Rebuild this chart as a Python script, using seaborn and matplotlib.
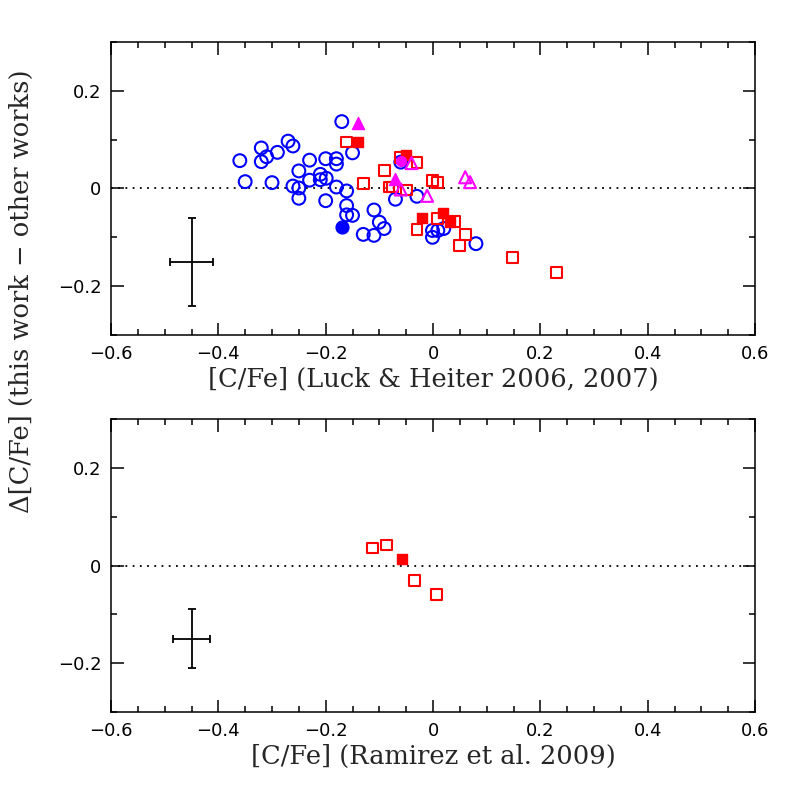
import numpy as np
import matplotlib
matplotlib.use("Agg")
import matplotlib.pyplot as plt
from matplotlib.ticker import MultipleLocator, FuncFormatter
import seaborn as sns

# ---- data ----
# top panel: comparison with Luck & Heiter (2006, 2007)
lh_circ_open_x = [-0.170, -0.150, -0.360, -0.320, -0.310, -0.320, -0.290, -0.270, -0.261,
                  -0.350, -0.300, -0.230, -0.250, -0.230, -0.261, -0.250, -0.250, -0.210,
                  -0.210, -0.199, -0.200, -0.200, -0.180, -0.180, -0.180, -0.161, -0.161,
                  -0.161, -0.150, -0.110, -0.100, -0.091, -0.130, -0.110, -0.070, -0.060,
                  -0.030, -0.001, -0.001, 0.009, 0.020, 0.080]
lh_circ_open_y = [0.137, 0.073, 0.057, 0.083, 0.065, 0.055, 0.074, 0.097, 0.087,
                  0.014, 0.012, 0.058, 0.036, 0.017, 0.005, 0.001, -0.020, 0.029,
                  0.018, 0.021, 0.061, -0.025, 0.061, 0.050, 0.003, -0.005, -0.035,
                  -0.054, -0.055, -0.044, -0.069, -0.082, -0.094, -0.096, -0.022, 0.054,
                  -0.016, -0.086, -0.100, -0.086, -0.082, -0.113]
lh_circ_fill_x = [-0.170]
lh_circ_fill_y = [-0.078]

lh_sq_open_x = [-0.161, -0.130, -0.091, -0.082, -0.075, -0.060, -0.030, -0.050, -0.001,
                0.009, 0.009, 0.040, -0.030, 0.060, 0.050, 0.148, 0.230]
lh_sq_open_y = [0.095, 0.010, 0.037, 0.003, 0.003, 0.063, 0.053, -0.003, 0.016,
                0.013, -0.061, -0.068, -0.084, -0.094, -0.117, -0.142, -0.172]
lh_sq_fill_x = [-0.140, -0.050, -0.020, 0.019, 0.031]
lh_sq_fill_y = [0.096, 0.068, -0.060, -0.051, -0.068]

lh_tri_fill_x = [-0.140, -0.070]
lh_tri_fill_y = [0.135, 0.019]
lh_tri_open_x = [-0.040, -0.060, -0.011, 0.060, 0.069]
lh_tri_open_y = [0.052, -0.002, -0.015, 0.023, 0.013]
lh_mag_circ_x = [-0.060]
lh_mag_circ_y = [0.056]

# bottom panel: comparison with Ramirez et al. (2009)
ra_sq_open_x = [-0.113, -0.086, -0.035, 0.007]
ra_sq_open_y = [0.036, 0.042, -0.030, -0.060]
ra_sq_fill_x = [-0.057]
ra_sq_fill_y = [0.014]

# typical error bars
err_x = [-0.45]
err_y = [-0.15]
err_top = (0.04, 0.09)
err_bot = (0.035, 0.06)

BLUE, RED, MAG = "#0000ff", "#ff0000", "#ff00ff"

sns.set_style("ticks")
plt.rcParams["font.family"] = ["DejaVu Sans"]
plt.rcParams["axes.linewidth"] = 1.1

fig = plt.figure(figsize=(7.97, 7.97), dpi=100)
ax1 = fig.add_axes([0.1393, 0.5797, 0.808, 0.3676])
ax2 = fig.add_axes([0.1393, 0.1066, 0.808, 0.3676])


def pts(ax, x, y, marker, color, filled, s):
    if filled:
        sns.scatterplot(x=x, y=y, ax=ax, marker=marker, s=s, facecolor=color,
                        edgecolor=color, linewidth=1.0, zorder=3)
    else:
        sns.scatterplot(x=x, y=y, ax=ax, marker=marker, s=s, facecolor="none",
                        edgecolor=color, linewidth=1.5, zorder=3)


def style(ax, xlabel):
    ax.set_xlim(-0.6, 0.6)
    ax.set_ylim(-0.3, 0.3)
    ax.axhline(0, color="black", linestyle=(0, (1, 3)), linewidth=1.3, zorder=1)
    ax.xaxis.set_major_locator(MultipleLocator(0.2))
    ax.xaxis.set_minor_locator(MultipleLocator(0.05))
    ax.yaxis.set_major_locator(MultipleLocator(0.2))
    ax.yaxis.set_minor_locator(MultipleLocator(0.1))
    fmt = FuncFormatter(lambda v, p: "0" if abs(v) < 1e-9 else f"{v:.1f}".replace("-", "\u2212"))
    ax.xaxis.set_major_formatter(fmt)
    ax.yaxis.set_major_formatter(fmt)
    ax.tick_params(which="both", direction="in", top=True, right=True, width=1.1,
                   labelsize=13, colors="black")
    ax.tick_params(which="major", length=9, pad=7)
    ax.tick_params(which="minor", length=4.5)
    ax.set_xlabel(xlabel, family="DejaVu Serif", fontsize=18.5, labelpad=3)
    ax.set_ylabel("")
    for sp in ax.spines.values():
        sp.set_color("black")


# top panel
pts(ax1, lh_circ_open_x, lh_circ_open_y, "o", BLUE, False, 85)
pts(ax1, lh_circ_fill_x, lh_circ_fill_y, "o", BLUE, True, 85)
pts(ax1, lh_sq_open_x, lh_sq_open_y, "s", RED, False, 60)
pts(ax1, lh_sq_fill_x, lh_sq_fill_y, "s", RED, True, 60)
pts(ax1, lh_tri_open_x, lh_tri_open_y, "^", MAG, False, 75)
pts(ax1, lh_tri_fill_x, lh_tri_fill_y, "^", MAG, True, 75)
pts(ax1, lh_mag_circ_x, lh_mag_circ_y, "o", MAG, True, 50)
ax1.errorbar(err_x, err_y, xerr=err_top[0], yerr=err_top[1], fmt="none",
             ecolor="black", elinewidth=1.3, capsize=3, capthick=1.3)
style(ax1, "[C/Fe] (Luck & Heiter 2006, 2007)")

# bottom panel
pts(ax2, ra_sq_open_x, ra_sq_open_y, "s", RED, False, 60)
pts(ax2, ra_sq_fill_x, ra_sq_fill_y, "s", RED, True, 60)
ax2.errorbar(err_x, err_y, xerr=err_bot[0], yerr=err_bot[1], fmt="none",
             ecolor="black", elinewidth=1.3, capsize=3, capthick=1.3)
style(ax2, "[C/Fe] (Ramirez et al. 2009)")

fig.text(0.027, 0.634, "\u0394[C/Fe] (this work \u2212 other works)", rotation=90,
         ha="center", va="center", family="DejaVu Serif", fontsize=18.5)

fig.savefig("out.png", dpi=100, facecolor="white")
